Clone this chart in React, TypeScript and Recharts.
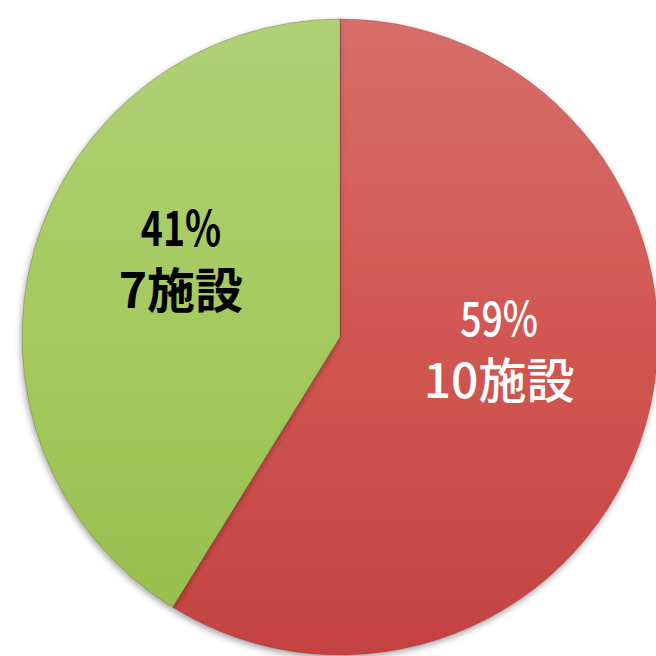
import { PieChart, Pie, Cell } from 'recharts'

const categories = ['10施設', '7施設']
const facilityCounts = [10, 7]
const percentLabels = ['59%', '41%']

const FILLS = ['url(#redGrad)', 'url(#greenGrad)']
const TEXT_COLORS = ['#ffffff', '#000000']
const TEXT_WEIGHTS = [500, 700]

const RADIAN = Math.PI / 180

const chartData = categories.map((name, i) => ({
  name,
  value: facilityCounts[i],
  pct: percentLabels[i],
}))

const renderLabel = ({ cx, cy, midAngle, outerRadius, index }: any) => {
  const r = outerRadius * 0.52
  const x = cx + r * Math.cos(midAngle * RADIAN)
  // Excel sits the label block a little above the slice middle
  const y = cy - r * Math.sin(midAngle * RADIAN) - 32
  const font = {
    fill: TEXT_COLORS[index],
    fontWeight: TEXT_WEIGHTS[index],
    fontSize: 48,
    fontFamily: "'Noto Sans CJK JP', sans-serif",
    textAnchor: 'middle' as const,
  }
  return (
    <g>
      <text {...font} transform={`translate(${x} ${y - 14}) scale(0.78 1)`} x={0} y={0}>
        {chartData[index].pct}
      </text>
      <text {...font} x={x} y={y + 48}>
        {chartData[index].name}
      </text>
    </g>
  )
}

export default function App() {
  return (
    <div style={{ position: 'absolute', left: 0, top: 0, width: 656, height: 656, background: '#fff' }}>
      <PieChart width={656} height={656}>
        <defs>
          <linearGradient id="redGrad" gradientUnits="userSpaceOnUse" x1="0" y1="14" x2="0" y2="650">
            <stop offset="0%" stopColor="#D66E6A" />
            <stop offset="50%" stopColor="#D25752" />
            <stop offset="100%" stopColor="#C44242" />
          </linearGradient>
          <linearGradient id="greenGrad" gradientUnits="userSpaceOnUse" x1="0" y1="14" x2="0" y2="650">
            <stop offset="0%" stopColor="#B0D077" />
            <stop offset="50%" stopColor="#A4CA5E" />
            <stop offset="100%" stopColor="#96BE4C" />
          </linearGradient>
          <filter id="shadow" x="-10%" y="-10%" width="120%" height="120%">
            <feDropShadow dx="-1" dy="3" stdDeviation="3" floodColor="#000" floodOpacity="0.35" />
          </filter>
        </defs>
        <Pie
          data={chartData}
          dataKey="value"
          cx={335}
          cy={332}
          outerRadius={318}
          startAngle={90}
          endAngle={-270}
          stroke="rgba(90,30,30,0.25)"
          strokeWidth={1}
          labelLine={false}
          label={renderLabel}
          isAnimationActive={false}
          style={{ filter: 'url(#shadow)' }}
        >
          {chartData.map((entry, index) => (
            <Cell key={`cell-${index}`} fill={FILLS[index]} />
          ))}
        </Pie>
      </PieChart>
    </div>
  )
}
